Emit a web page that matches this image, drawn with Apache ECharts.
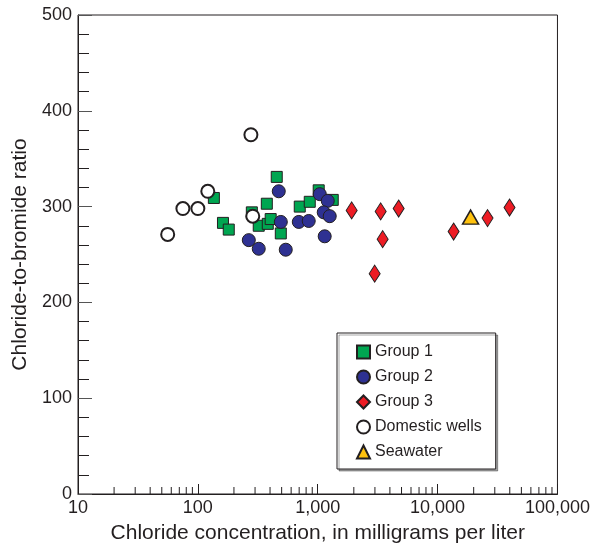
<!DOCTYPE html>
<html>
<head>
<meta charset="utf-8">
<script src="https://cdn.jsdelivr.net/npm/echarts@6/dist/echarts.min.js"></script>
<style>
html,body{margin:0;padding:0;background:#fff;}
#chart{width:593px;height:549px;}
</style>
</head>
<body>
<div id="chart"></div>
<script>
// Data: [chloride mg/L, Cl/Br ratio]
const group1 = [[136,309],[162,283],[181,276],[282,294],[322,280],[383,282],[405,287],[455,331],[376,303],[492,272],[708,300],[858,305],[1019,317],[1334,307]];
const group2 = [[473,316],[266,265],[322,256],[492,284],[541,255],[695,284],[841,285],[1040,313],[1212,306],[1122,294],[1259,290],[1143,269]];
const group3 = [[1919,296],[3350,295],[4732,298],[3480,266],[2985,230],[13600,274],[26100,288],[39800,299]];
const domestic = [[56,271],[75,298],[100,298],[121,316],[277,375],[287,290]];
const seawater = [[18840,289]];
const seriesNames = ['Group 1','Group 2','Group 3','Domestic wells','Seawater'];
const xMinorTicks = [20,30,40,50,60,70,80,90,200,300,400,500,600,700,800,900,2000,3000,4000,5000,6000,7000,8000,9000,20000,30000,40000,50000,60000,70000,80000,90000];

const ink = '#231f20';
const font = 'Liberation Sans, Arial, Helvetica, sans-serif';
const chart = echarts.init(document.getElementById('chart'), null, {renderer:'canvas'});

chart.setOption({
  animation:false,
  backgroundColor:'#fff',
  grid:{left:78,right:35,top:15,bottom:54,show:true,borderColor:ink,borderWidth:1,backgroundColor:'transparent'},
  xAxis:{
    type:'log', logBase:10, min:10, max:100000,
    name:'Chloride concentration, in milligrams per liter',
    nameLocation:'middle', nameGap:29,
    nameTextStyle:{fontFamily:font,fontSize:21,color:ink},
    axisLine:{lineStyle:{color:ink,width:1}},
    axisTick:{inside:true,length:10,lineStyle:{color:ink}},
    axisLabel:{fontFamily:font,fontSize:18,color:ink,margin:5,
      formatter:v=>Math.round(v).toLocaleString('en-US')},
    splitLine:{show:false}
  },
  yAxis:{
    type:'value', min:0, max:500, interval:100,
    name:'Chloride-to-bromide ratio',
    nameLocation:'middle', nameGap:47,
    nameTextStyle:{fontFamily:font,fontSize:21,color:ink},
    axisLine:{lineStyle:{color:ink,width:1}},
    axisTick:{inside:true,length:14,lineStyle:{color:'#555'}},
    minorTick:{show:true,splitNumber:5,length:11,lineStyle:{color:ink}},
    axisLabel:{fontFamily:font,fontSize:18,color:ink,margin:6},
    splitLine:{show:false}
  },
  legend:{
    data:seriesNames,
    orient:'vertical', left:337, top:333,
    itemWidth:13, itemHeight:13, itemGap:9,
    padding:[11,14,9,19],
    borderColor:ink, borderWidth:1, backgroundColor:'#fff',
    shadowColor:'rgba(0,0,0,0.35)', shadowOffsetX:2, shadowOffsetY:2, shadowBlur:0,
    textStyle:{fontFamily:font,fontSize:16,color:ink}
  },
  series:[
    {type:'custom', name:'minorTicks', silent:true, z:1,
      data:xMinorTicks.map(v=>[v,0]),
      encode:{x:0,y:1},
      renderItem:(params,api)=>{
        const p = api.coord([api.value(0),0]);
        return {type:'line',shape:{x1:p[0],y1:p[1],x2:p[0],y2:p[1]-7},style:{stroke:ink,lineWidth:1}};
      }},
    {type:'scatter', name:'Group 1', data:group1, symbol:'rect', symbolSize:11,
      itemStyle:{color:'#00a651',borderColor:ink,borderWidth:1,opacity:1}},
    {type:'scatter', name:'Group 2', data:group2, symbol:'circle', symbolSize:13,
      itemStyle:{color:'#2e3192',borderColor:ink,borderWidth:1,opacity:1}},
    {type:'scatter', name:'Group 3', data:group3, symbol:'diamond', symbolSize:[11,17],
      itemStyle:{color:'#ed1c24',borderColor:ink,borderWidth:1,opacity:1}},
    {type:'scatter', name:'Domestic wells', data:domestic, symbol:'circle', symbolSize:13,
      itemStyle:{color:'#ffffff',borderColor:ink,borderWidth:2,opacity:1}},
    {type:'scatter', name:'Seawater', data:seawater, symbol:'triangle', symbolSize:[16,14],
      itemStyle:{color:'#ffc20e',borderColor:ink,borderWidth:1.5,opacity:1}}
  ]
});
</script>
</body>
</html>
